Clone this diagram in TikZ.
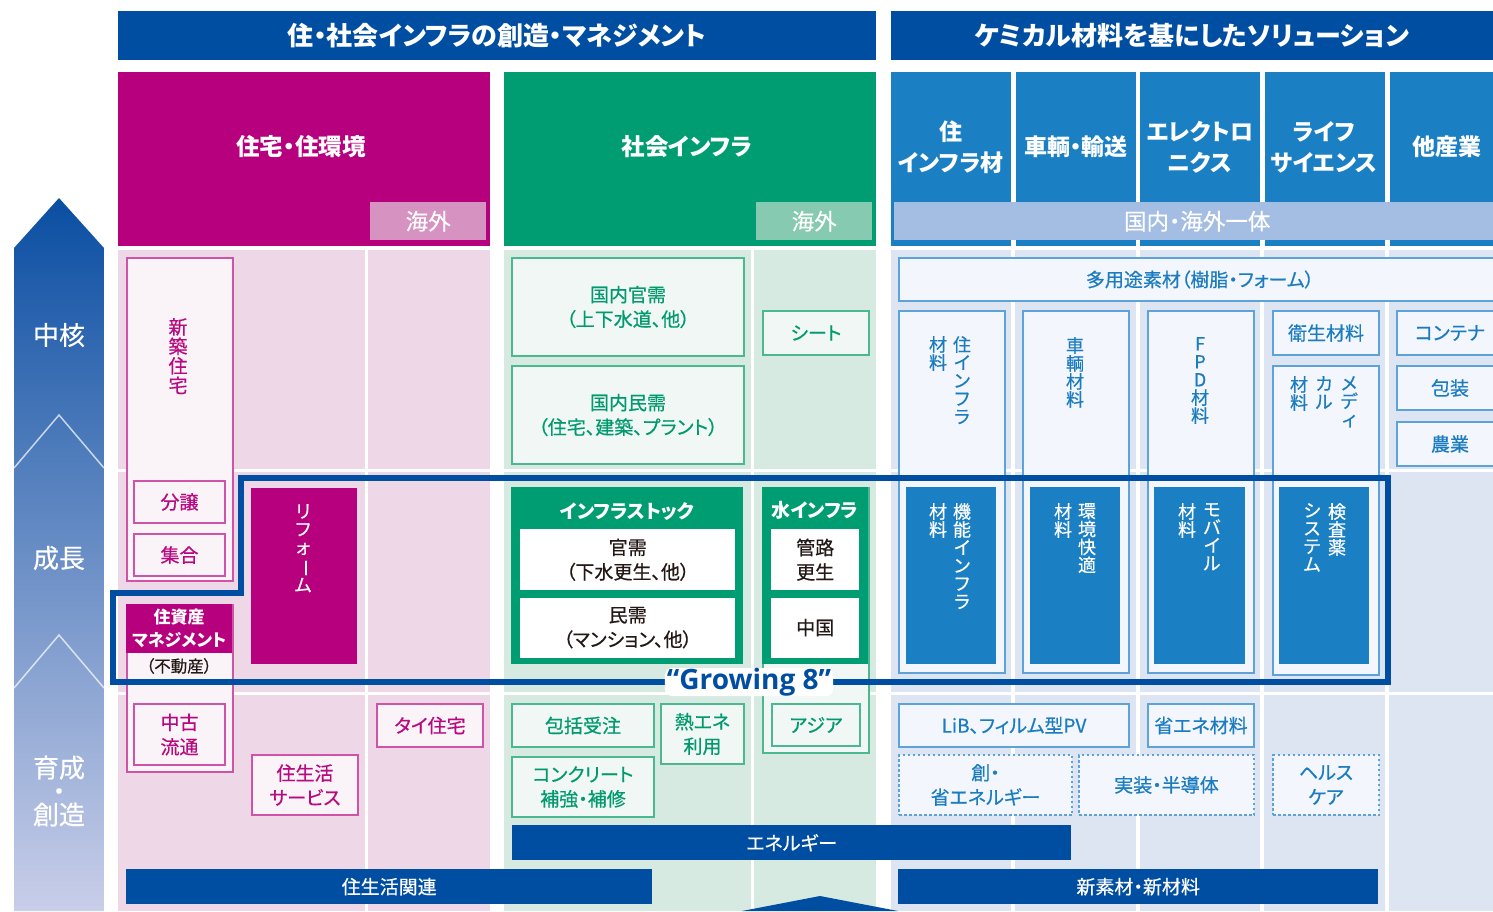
\documentclass[tikz,border=0pt]{standalone}
\usepackage{fontspec}
\setmainfont{Noto Sans CJK JP}[RawFeature=+palt]
\newfontfamily\medfont{Noto Sans CJK JP}[RawFeature=+palt, FakeBold=0.5]
\newfontfamily\growfont{Open Sans}
\usetikzlibrary{positioning}

\definecolor{dblue}{RGB}{0,78,162}
\definecolor{shumag}{RGB}{182,0,126}
\definecolor{pinkbg}{RGB}{238,216,232}
\definecolor{pinkline}{RGB}{207,84,168}
\definecolor{pinkfill}{RGB}{250,243,248}
\definecolor{pinkov}{RGB}{214,146,192}
\definecolor{pinktext}{RGB}{184,10,128}
\definecolor{grn}{RGB}{0,156,114}
\definecolor{grnbg}{RGB}{214,234,226}
\definecolor{grnline}{RGB}{76,184,146}
\definecolor{grnfill}{RGB}{240,247,244}
\definecolor{grnov}{RGB}{134,202,177}
\definecolor{grntext}{RGB}{0,154,110}
\definecolor{blu}{RGB}{27,127,196}
\definecolor{blubg}{RGB}{221,228,242}
\definecolor{bluline}{RGB}{93,163,218}
\definecolor{blufill}{RGB}{243,246,252}
\definecolor{bluov}{RGB}{164,189,226}
\definecolor{blutext}{RGB}{27,124,192}
\definecolor{arrowtop}{RGB}{10,78,162}
\definecolor{arrowbot}{RGB}{201,206,233}
\definecolor{inktext}{RGB}{35,24,21}

\newcommand{\hdfont}{\fontsize{26}{30}\selectfont\bfseries}
\newcommand{\secfont}{\fontsize{23.5}{28}\selectfont\bfseries}
\newcommand{\colfont}{\fontsize{23}{31}\selectfont\bfseries}
\newcommand{\ovfont}{\medfont\fontsize{22.5}{26}\selectfont}
\newcommand{\bxfont}{\medfont\fontsize{19}{24.5}\selectfont}
\newcommand{\vtfont}{\medfont\fontsize{18}{18}\selectfont}
\newcommand{\axfont}{\medfont\fontsize{26}{23.5}\selectfont}
\newcommand{\smfont}{\fontsize{17}{23}\selectfont}
\newcommand{\tatebar}{\rotatebox[origin=c]{-90}{ー}}

\tikzset{bx/.style={anchor=north west, inner sep=0pt, align=center}}
\tikzset{pbox/.style={bx, draw=pinkline, fill=pinkfill, line width=2pt, text=pinktext, font=\bxfont}}
\tikzset{gbox/.style={bx, draw=grnline, fill=grnfill, line width=2pt, text=grntext, font=\bxfont}}
\tikzset{bbox/.style={bx, draw=bluline, fill=blufill, line width=2pt, text=blutext, font=\bxfont}}
\tikzset{dbox/.style={bbox, dash pattern=on 2.5pt off 2.5pt}}
\tikzset{wbox/.style={bx, fill=white, text=inktext, font=\bxfont}}
\tikzset{fbox/.style={bx, fill=blu}}
\tikzset{bar/.style={bx, fill=dblue, text=white, font=\bxfont}}
\tikzset{vtxt/.style={anchor=north, inner sep=0pt, align=center, font=\vtfont}}
\tikzset{axtxt/.style={text=white, align=center, font=\axfont}}

\begin{document}
\begin{tikzpicture}[x=1pt, y=-1pt]
  \tikzstyle{hdr}=[bx, fill=dblue, text=white, font=\hdfont]
  \tikzstyle{colhdr}=[bx, fill=blu, text=white, font=\colfont, minimum width=120, minimum height=174]
  \useasboundingbox (0,0) rectangle (1493,911);

  %%%% growth arrow
  \shade[top color=arrowtop, bottom color=arrowbot] (14,911) -- (14,248) -- (59,198) -- (104,248) -- (104,911) -- cycle;
  \draw[white, opacity=.7, line width=1.5pt] (14,468) -- (59,415) -- (104,468);
  \draw[white, opacity=.7, line width=1.5pt] (14,688) -- (59,635) -- (104,688);
  \node[axtxt] (chukaku) at (59,335) {中核};
  \node[axtxt] (seicho) at (59,558) {成長};
  \node[axtxt] (ikusei) at (59,791) {育成\\・\\創造};

  %%%% headers
  \node[hdr, minimum width=758, minimum height=49] (hdrL) at (118,11) {住・社会インフラの創造・マネジメント};
  \node[hdr, minimum width=602, minimum height=49] (hdrR) at (891,11) {ケミカル材料を基にしたソリューション};

  \node[bx, fill=shumag, minimum width=372, minimum height=174] (jutaku) at (118,72) {};
  \node[text=white, font=\secfont] (jutakuT) at (301,147) {住宅・住環境};
  \node[bx, fill=pinkov, text=white, font=\ovfont, minimum width=116, minimum height=38] (kaigaiP) at (370,202) {海外};

  \node[bx, fill=grn, minimum width=372, minimum height=174] (shakai) at (504,72) {};
  \node[text=white, font=\secfont] (shakaiT) at (687,147) {社会インフラ};
  \node[bx, fill=grnov, text=white, font=\ovfont, minimum width=116, minimum height=38] (kaigaiG) at (756,202) {海外};

  \node[colhdr] (colJu) at (891,72) {};
  \node[colhdr] (colSha) at (1016,72) {};
  \node[colhdr] (colEle) at (1140,72) {};
  \node[colhdr] (colLife) at (1265,72) {};
  \node[colhdr, minimum width=110] (colTa) at (1390,72) {};
  \node[text=white, font=\colfont, align=center] (colJuT) at (951,147) {住\\インフラ材};
  \node[text=white, font=\colfont] (colShaT) at (1076,147) {車輌・輸送};
  \node[text=white, font=\colfont, align=center] (colEleT) at (1200,147) {エレクトロ\\ニクス};
  \node[text=white, font=\colfont, align=center] (colLifeT) at (1324,147) {ライフ\\サイエンス};
  \node[text=white, font=\colfont] (colTaT) at (1447,147) {他産業};
  \node[bx, fill=bluov, text=white, font=\ovfont, minimum width=606, minimum height=38] (kokunai) at (894,202) {国内・海外一体};

  %%%% body cells
  \foreach \ya/\yb in {250/469,472/692,695/911}{
    \foreach \xa/\xb in {118/365,368/490} \fill[pinkbg] (\xa,\ya) rectangle (\xb,\yb);
    \foreach \xa/\xb in {504/751,754/876} \fill[grnbg] (\xa,\ya) rectangle (\xb,\yb);
    \foreach \xa/\xb in {891/1011,1015/1136,1140/1260,1264/1385,1389/1493} \fill[blubg] (\xa,\ya) rectangle (\xb,\yb);
  }

  %%%% housing
  \node[pbox, minimum width=106, minimum height=323] (shinchiku) at (126,257) {};
  \node[vtxt, text=pinktext, font=\medfont\fontsize{19}{19.5}\selectfont] (shinchikuT) at (178,318) {新\\築\\住\\宅};
  \node[pbox, minimum width=91, minimum height=42] (bunjo) at (133,480) {分譲};
  \node[pbox, minimum width=91, minimum height=42, below=9pt of bunjo] (shugo) {集合};
  \node[pbox, minimum width=106, minimum height=167] (jushisan) at (126,604) {};
  \node[bx, fill=shumag, text=white, font=\smfont\bfseries, minimum width=106, minimum height=49] (jushisanT) at (126,604) {住資産\\マネジメント};
  \node[text=inktext, font=\medfont\fontsize{16.5}{20}\selectfont] (fudosan) at (179,666) {（不動産）};
  \node[pbox, minimum width=91, minimum height=61] (chuko) at (133,703) {中古\\流通};
  \node[bx, fill=shumag, minimum width=106, minimum height=176] (reform) at (251,488) {};
  \node[vtxt, text=white] (reformT) at (303,504) {リ\\フ\\ォ\\\tatebar\\ム};
  \node[pbox, minimum width=106, minimum height=60] (seikatsu) at (251,754) {住生活\\サービス};
  \node[pbox, minimum width=106, minimum height=43] (thai) at (376,703) {タイ住宅};

  %%%% social infra
  \node[gbox, minimum width=232, minimum height=98] (kanju) at (511,257) {国内官需\\（上下水道、他）};
  \node[gbox, minimum width=232, minimum height=98, below=8pt of kanju] (minju) {国内民需\\（住宅、建築、プラント）};
  \node[gbox, minimum width=106, minimum height=44] (sheet) at (762,310) {シート};
  \node[bx, fill=grn, minimum width=232, minimum height=177] (stock) at (511,487) {};
  \node[text=white, font=\fontsize{19}{24}\selectfont\bfseries] (stockT) at (627,511) {インフラストック};
  \node[wbox, minimum width=215, minimum height=61] (kanjuS) at (520,529) {官需\\（下水更生、他）};
  \node[wbox, minimum width=215, minimum height=60, below=7pt of kanjuS] (minjuS) {民需\\（マンション、他）};
  \node[gbox, minimum width=106, minimum height=265] (asiaF) at (762,487) {};
  \node[bx, fill=grn, minimum width=106, minimum height=177] (suido) at (762,487) {};
  \node[text=white, font=\fontsize{19}{24}\selectfont\bfseries] (suidoT) at (815,510) {水インフラ};
  \node[wbox, minimum width=88, minimum height=61] (kanro) at (771,529) {管路\\更生};
  \node[wbox, minimum width=88, minimum height=60, below=7pt of kanro] (china) {中国};
  \node[gbox, minimum width=88, minimum height=42] (asia) at (771,703) {アジア};
  \node[gbox, minimum width=142, minimum height=43] (houkatsu) at (511,703) {包括受注};
  \node[gbox, minimum width=83, minimum height=60] (netsu) at (660,703) {熱エネ\\利用};
  \node[gbox, minimum width=142, minimum height=60, below=8pt of houkatsu] (concrete) {コンクリート\\補強・補修};

  %%%% chemical
  \node[bbox, minimum width=602, minimum height=43] (tayouto) at (898,257) {多用途素材（樹脂・フォーム）};
  \node[bbox, minimum width=106, minimum height=362] (juinfra) at (898,310) {};
  \node[vtxt, text=blutext] (juinfraR) at (962,336) {住\\イ\\ン\\フ\\ラ};
  \node[vtxt, text=blutext] (juinfraL) at (938,336) {材\\料};
  \node[bbox, minimum width=106, minimum height=362] (sharyo) at (1022,310) {};
  \node[vtxt, text=blutext] (sharyoT) at (1075,337) {車\\輌\\材\\料};
  \node[bbox, minimum width=106, minimum height=362] (fpd) at (1147,310) {};
  \node[vtxt, text=blutext] (fpdT) at (1200,337) {F\\P\\D\\材\\料};
  \node[bbox, minimum width=106, minimum height=44] (eisei) at (1272,310) {衛生材料};
  \node[bbox, minimum width=106, minimum height=309, below=9pt of eisei] (medical) {};
  \node[vtxt, text=blutext] (medicalR) at (1349,376) {メ\\デ\\ィ};
  \node[vtxt, text=blutext] (medicalM) at (1324,376) {カ\\ル};
  \node[vtxt, text=blutext] (medicalL) at (1299,376) {材\\料};
  \node[bbox, minimum width=106, minimum height=44] (container) at (1396,310) {コンテナ};
  \node[bbox, minimum width=106, minimum height=44, below=9pt of container] (hoso) {包装};
  \node[bbox, minimum width=106, minimum height=44, below=10pt of hoso] (nogyo) {農業};

  \node[fbox, minimum width=90, minimum height=177] (kino) at (906,487) {};
  \node[vtxt, text=white] (kinoR) at (962,503) {機\\能\\イ\\ン\\フ\\ラ};
  \node[vtxt, text=white] (kinoL) at (938,503) {材\\料};
  \node[fbox, minimum width=90, minimum height=177] (kankyo) at (1030,487) {};
  \node[vtxt, text=white] (kankyoR) at (1087,503) {環\\境\\快\\適};
  \node[vtxt, text=white] (kankyoL) at (1063,503) {材\\料};
  \node[fbox, minimum width=91, minimum height=177] (mobile) at (1154,487) {};
  \node[vtxt, text=white] (mobileR) at (1212,503) {モ\\バ\\イ\\ル};
  \node[vtxt, text=white] (mobileL) at (1187,503) {材\\料};
  \node[fbox, minimum width=90, minimum height=177] (kensa) at (1279,487) {};
  \node[vtxt, text=white] (kensaR) at (1337,503) {検\\査\\薬};
  \node[vtxt, text=white] (kensaL) at (1312,503) {シ\\ス\\テ\\ム};

  \node[bbox, minimum width=230, minimum height=43] (lib) at (898,703) {LiB、フィルム型PV};
  \node[bbox, minimum width=106, minimum height=43] (shoene) at (1147,703) {省エネ材料};
  \node[dbox, minimum width=173, minimum height=60] (soene) at (898,754) {創・\\省エネルギー};
  \node[dbox, minimum width=175, minimum height=60] (jisso) at (1078,754) {実装・半導体};
  \node[dbox, minimum width=106, minimum height=60] (health) at (1272,754) {ヘルス\\ケア};

  %%%% bottom bars
  \node[bar, minimum width=559, minimum height=35] (energy) at (512,825) {エネルギー};
  \node[bar, minimum width=526, minimum height=35] (kanren) at (126,869) {住生活関連};
  \node[bar, minimum width=480, minimum height=35] (shinsozai) at (898,869) {新素材・新材料};
  \fill[dblue] (742,911) -- (820,896) -- (898,911) -- cycle;

  %%%% Growing 8
  \draw[dblue, line width=6pt] (241,478) -- (1388,478) -- (1388,682) -- (113,682) -- (113,593) -- (241,593) -- cycle;
  \node[fill=white, rounded corners=7pt, inner xsep=2pt, inner ysep=0pt, text=dblue,
        font=\growfont\bfseries\fontsize{28}{28}\selectfont] (growing) at (749,682) {“Growing 8”};
\end{tikzpicture}
\end{document}
